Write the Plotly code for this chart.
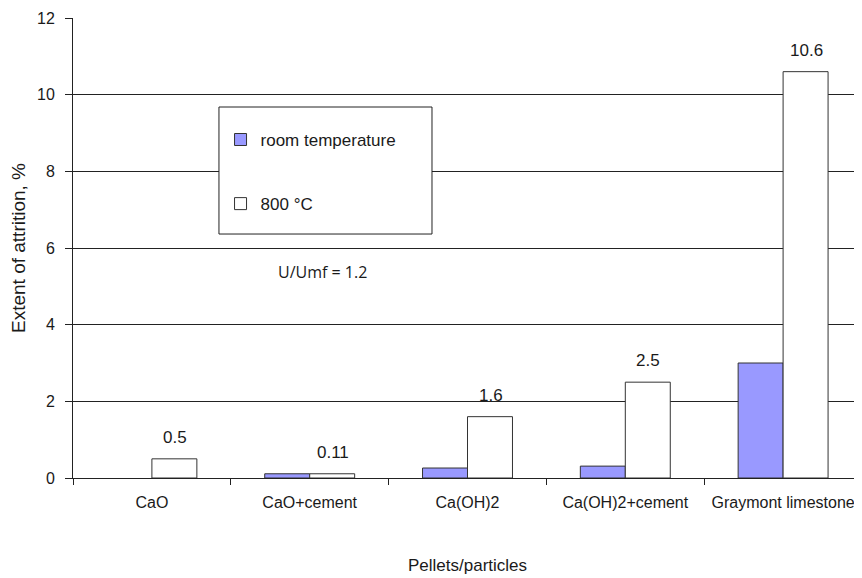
import plotly.graph_objects as go

categories = ["CaO", "CaO+cement", "Ca(OH)2", "Ca(OH)2+cement", "Graymont limestone"]
room_temp = [None, 0.11, 0.26, 0.31, 3.0]
hot_800 = [0.5, 0.11, 1.6, 2.5, 10.6]
hot_labels = ["0.5", "0.11", "1.6", "2.5", "10.6"]
y_ticks = [0, 2, 4, 6, 8, 10, 12]

FONT = "Arial, Liberation Sans, sans-serif"
TXT = "#1a1a1a"

fig = go.Figure()
fig.add_trace(go.Bar(
    x=categories, y=room_temp, name="room temperature", legendgroup="a",
    marker=dict(color="#9999FF", line=dict(color="#333333", width=1)),
))
fig.add_trace(go.Bar(
    x=categories, y=hot_800, name="800 °C", legendgroup="b",
    marker=dict(color="#FFFFFF", line=dict(color="#333333", width=1)),
))

for c, v, t in zip(categories, hot_800, hot_labels):
    fig.add_annotation(x=c, y=v, text=t, showarrow=False, xref="x", yref="y",
                       yanchor="bottom", xshift=23, yshift=10,
                       font=dict(family=FONT, size=17, color=TXT))

fig.add_annotation(x=0.316, y=0.448, xref="paper", yref="paper", text="U/Umf = 1.2",
                   xanchor="center", yanchor="middle",
                   showarrow=False, font=dict(family="Open Sans, sans-serif", size=16, color=TXT))

fig.add_shape(type="rect", xref="paper", yref="paper", x0=0.185, x1=0.455, y0=0.5304, y1=0.8065,
              line=dict(color="#222222", width=1), fillcolor="white", layer="above")

fig.update_layout(
    width=854, height=570,
    margin=dict(l=65, r=0, t=10, b=100),
    paper_bgcolor="white", plot_bgcolor="white",
    barmode="group", bargap=0.43, bargroupgap=0,
    font=dict(family=FONT, size=16, color=TXT),
    legend=dict(x=0.187, y=0.774, xanchor="left", yanchor="top",
                bgcolor="rgba(0,0,0,0)", borderwidth=0,
                traceorder="grouped", tracegroupgap=39,
                font=dict(family=FONT, size=17, color=TXT)),
    xaxis=dict(
        automargin=False,
        showline=True, linecolor="#222222", linewidth=1,
        ticks="outside", tickson="boundaries", ticklen=6, tickcolor="#222222",
        ticklabelstandoff=10, tickfont=dict(size=16), tickangle=0,
        showgrid=False,
        title=dict(text="Pellets/particles", standoff=48, font=dict(size=17)),
    ),
    yaxis=dict(
        automargin=False,
        range=[0, 12], tickvals=y_ticks,
        showline=True, linecolor="#222222", linewidth=1,
        ticks="outside", ticklen=7, tickcolor="#222222",
        ticklabelstandoff=7,
        showgrid=True, gridcolor="#222222", gridwidth=1,
        zeroline=False,
        title=dict(text="Extent of attrition, %", standoff=8, font=dict(size=19)),
    ),
)

fig.write_html("out.html")
